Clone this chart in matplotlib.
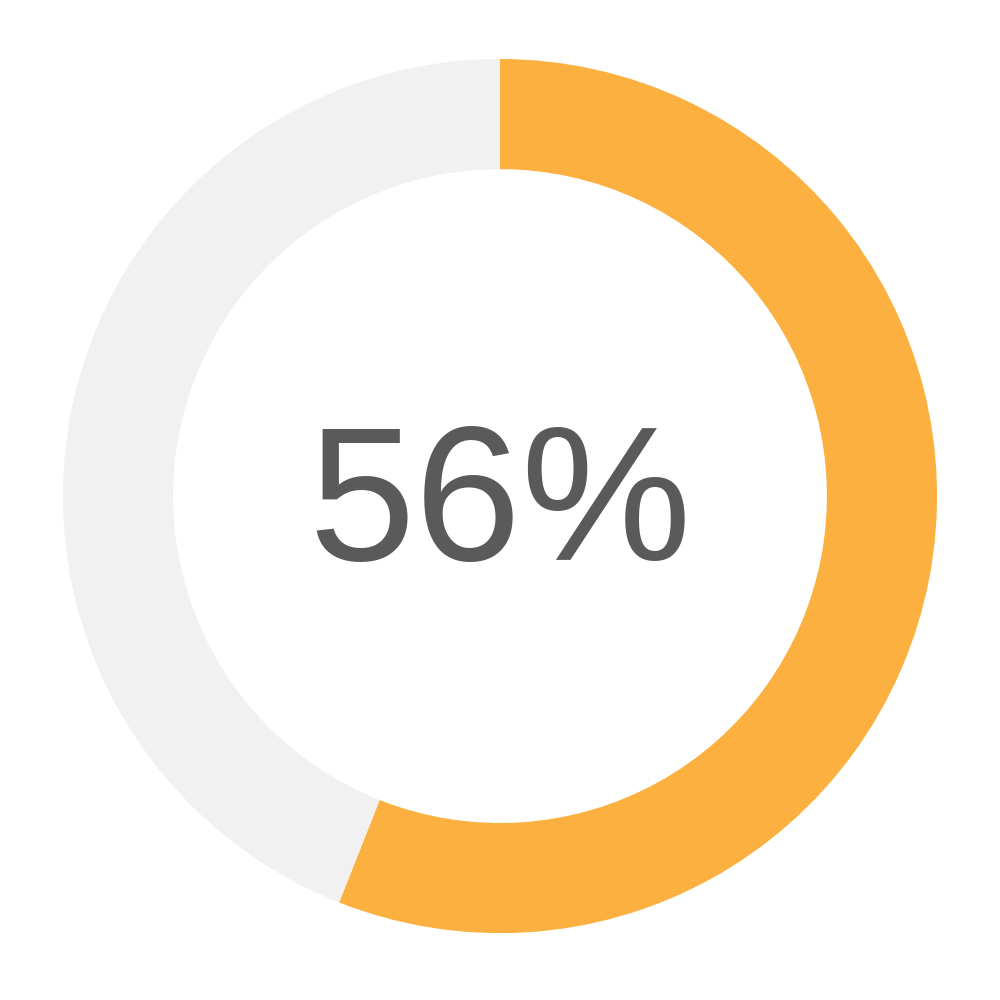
import matplotlib.pyplot as plt

# donut values (percent)
labels = ['Done', 'Remaining']
values = [56, 44]
colors = ['#FBB040', '#F1F1F1']
center_text = '56%'

fig = plt.figure(figsize=(10, 10), dpi=100)
ax = fig.add_axes([0, 0, 1, 1])

ax.pie(values, colors=colors, startangle=90, counterclock=False,
       radius=1.0, center=(0, 0.009),
       wedgeprops=dict(width=0.252, edgecolor='none'))

# label sits a touch below the ring centre
ax.text(0, -0.023, center_text, ha='center', va='center',
        fontsize=138, color='#5a5a5a', family='Liberation Sans')

ax.set_xlim(-1.144, 1.144)
ax.set_ylim(-1.144, 1.144)
ax.set_aspect('equal')
ax.axis('off')

fig.savefig('out.png', dpi=100, facecolor='white')
plt.close(fig)
